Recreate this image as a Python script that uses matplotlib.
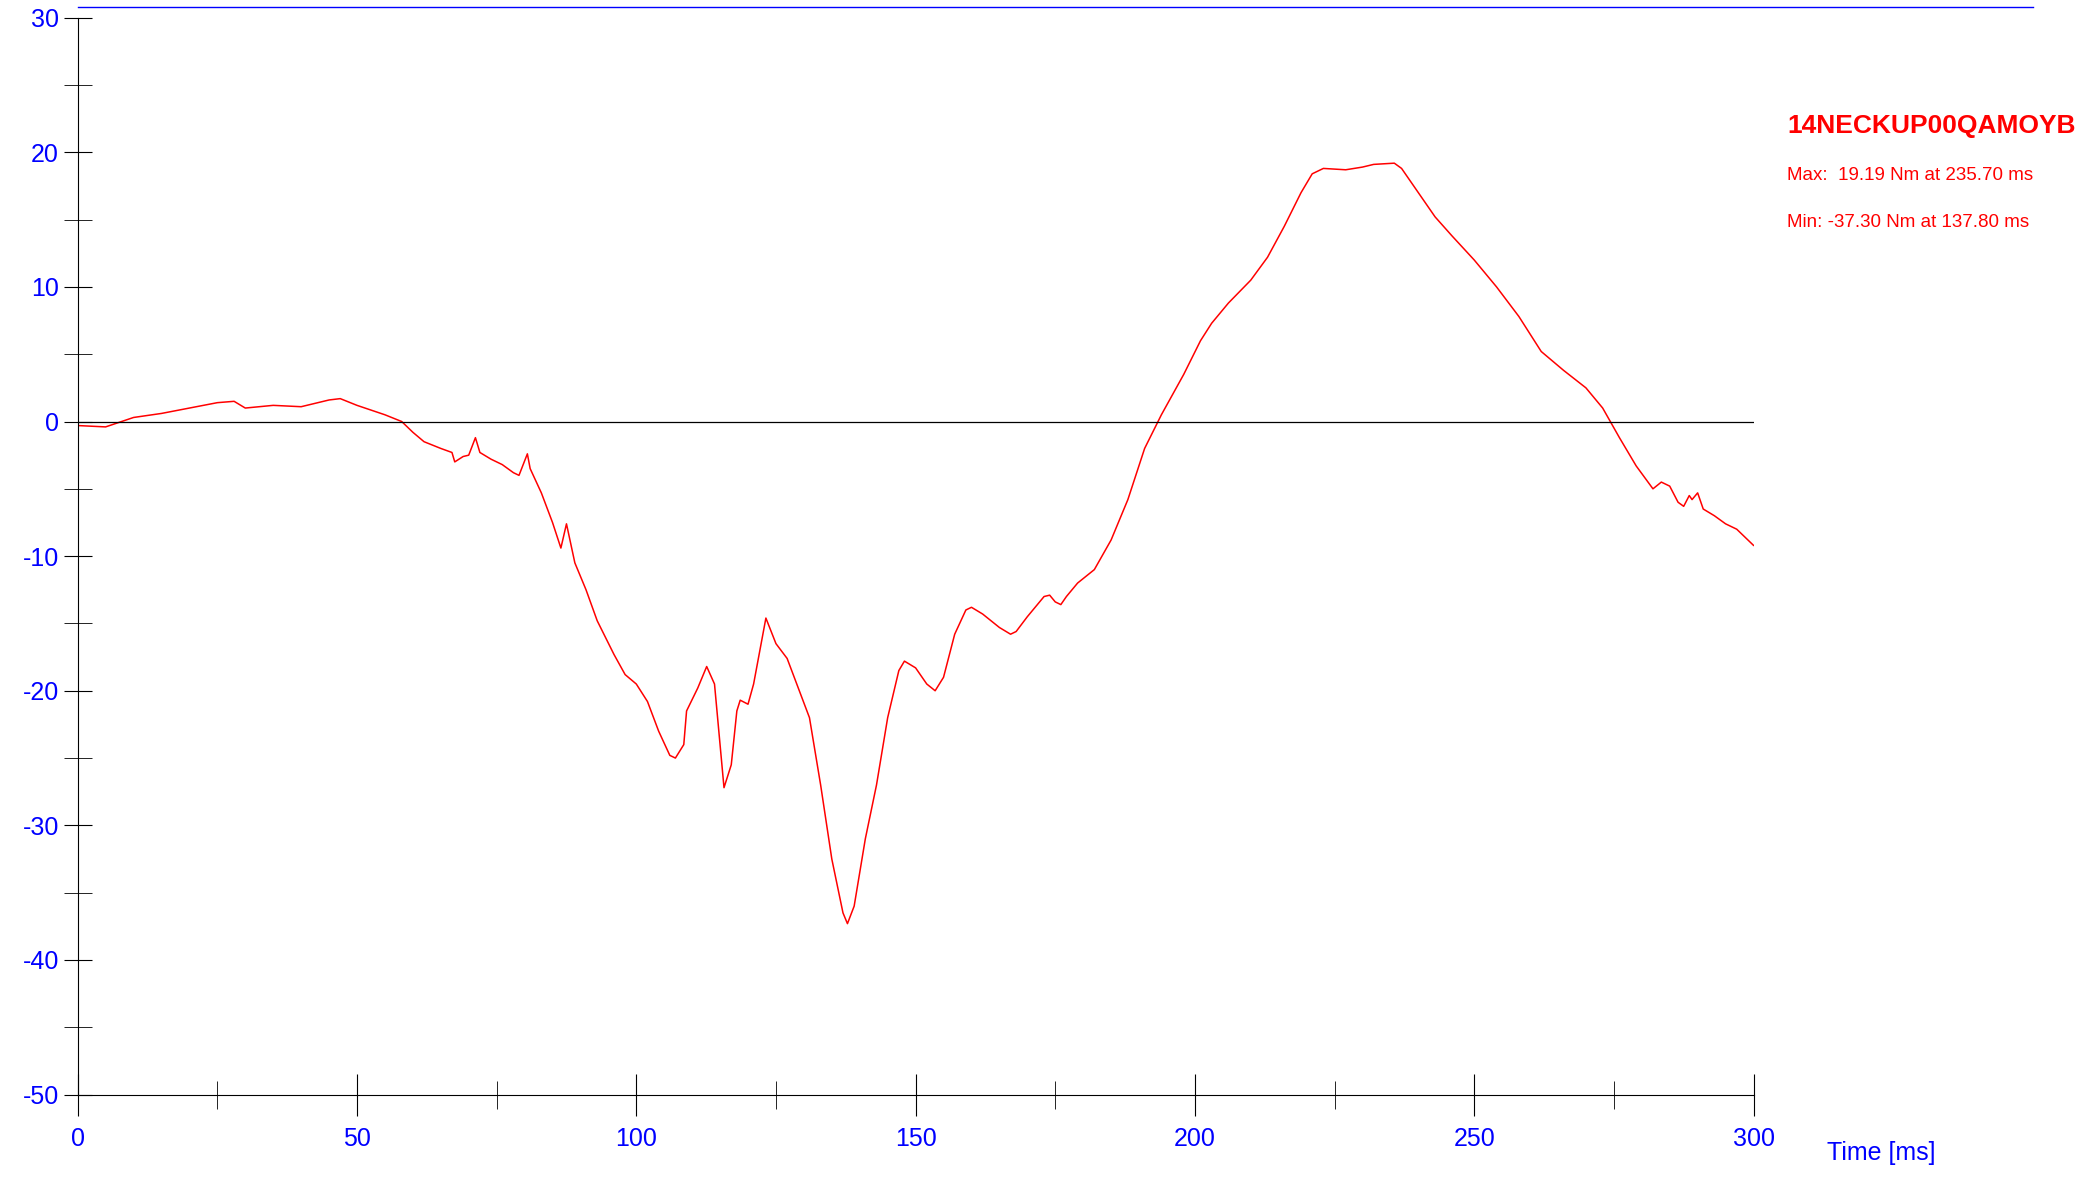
import matplotlib
matplotlib.use("Agg")
import matplotlib.pyplot as plt
from matplotlib.ticker import MultipleLocator

plt.rcParams['font.family'] = ['Liberation Sans', 'DejaVu Sans']
plt.rcParams['axes.unicode_minus'] = False

t = [0,5,10,15,20,25,28,30,35,40,45,47,50,55,58,60,62,65,67,67.5,69,70,71.2,72,74,76,78,79,80.5,81,83,85,86.5,87.5,89,91,93,96,98,100,102,104,106,107,108.5,109,111,112.6,114,115,115.7,117,118,118.6,120,121,123.2,125,127,129,131,133,135,137,137.8,139,141,143,145,147,148,150,152,153.5,155,157,159,160,162,165,167,168,170,173,174,175,176,177,179,182,185,188,191,194,196,198,201,203,206,210,213,216,219,221,223,227,230,232,235.7,237,240,243,246,250,254,258,262,266,270,273,276,279,282,283.5,285,286.5,287.5,288.5,289,290,291,293,295,297,300]
v = [-0.3,-0.4,0.3,0.6,1.0,1.4,1.5,1.0,1.2,1.1,1.6,1.7,1.2,0.5,0,-0.8,-1.5,-2.0,-2.3,-3.0,-2.6,-2.5,-1.2,-2.3,-2.8,-3.2,-3.8,-4.0,-2.4,-3.5,-5.3,-7.5,-9.4,-7.6,-10.5,-12.5,-14.8,-17.3,-18.8,-19.5,-20.8,-23.0,-24.8,-25.0,-24.0,-21.5,-19.8,-18.2,-19.5,-24.0,-27.2,-25.5,-21.5,-20.7,-21.0,-19.5,-14.6,-16.5,-17.6,-19.8,-22.0,-27.0,-32.5,-36.5,-37.3,-36.0,-31.0,-27.0,-22.0,-18.5,-17.8,-18.3,-19.5,-20.0,-19.0,-15.8,-14.0,-13.8,-14.3,-15.3,-15.8,-15.6,-14.5,-13.0,-12.9,-13.4,-13.6,-13.0,-12.0,-11.0,-8.8,-5.8,-2.0,0.5,2.0,3.5,6.0,7.3,8.8,10.5,12.2,14.5,17.0,18.4,18.8,18.7,18.9,19.1,19.19,18.8,17.0,15.2,13.8,12.0,10.0,7.8,5.2,3.8,2.5,1.0,-1.2,-3.3,-5.0,-4.5,-4.8,-6.0,-6.3,-5.5,-5.8,-5.3,-6.5,-7.0,-7.6,-8.0,-9.2]

fig = plt.figure(figsize=(21, 11.77), dpi=100)
ax = fig.add_axes([0.037, 0.070, 0.798, 0.915])
ax.plot(t, v, color='red', lw=1.1)
ax.axhline(0, color='black', lw=0.9)
ax.plot([0, 350], [30.8, 30.8], color='blue', lw=1, clip_on=False)
ax.set_xlim(0, 300)
ax.set_ylim(-50, 30)
for s in ['top', 'right']:
    ax.spines[s].set_visible(False)
ax.xaxis.set_major_locator(MultipleLocator(50))
ax.xaxis.set_minor_locator(MultipleLocator(25))
ax.yaxis.set_major_locator(MultipleLocator(10))
ax.yaxis.set_minor_locator(MultipleLocator(5))
ax.tick_params(which='major', direction='inout', length=30, labelsize=18, labelcolor='blue', color='black')
ax.tick_params(which='minor', direction='inout', length=20, color='black')
ax.tick_params(axis='y', which='major', length=20)
ax.tick_params(axis='y', which='minor', length=20)
ax.tick_params(axis='x', pad=8)
fig.text(0.87, 0.010, 'Time [ms]', color='blue', fontsize=18, ha='left', va='bottom')
fig.text(0.851, 0.887, '14NECKUP00QAMOYB', color='red', fontsize=19, fontweight='bold', ha='left')
fig.text(0.851, 0.847, 'Max:  19.19 Nm at 235.70 ms', color='red', fontsize=13.5, ha='left')
fig.text(0.851, 0.807, 'Min: -37.30 Nm at 137.80 ms', color='red', fontsize=13.5, ha='left')
fig.savefig('out.png', dpi=100)
